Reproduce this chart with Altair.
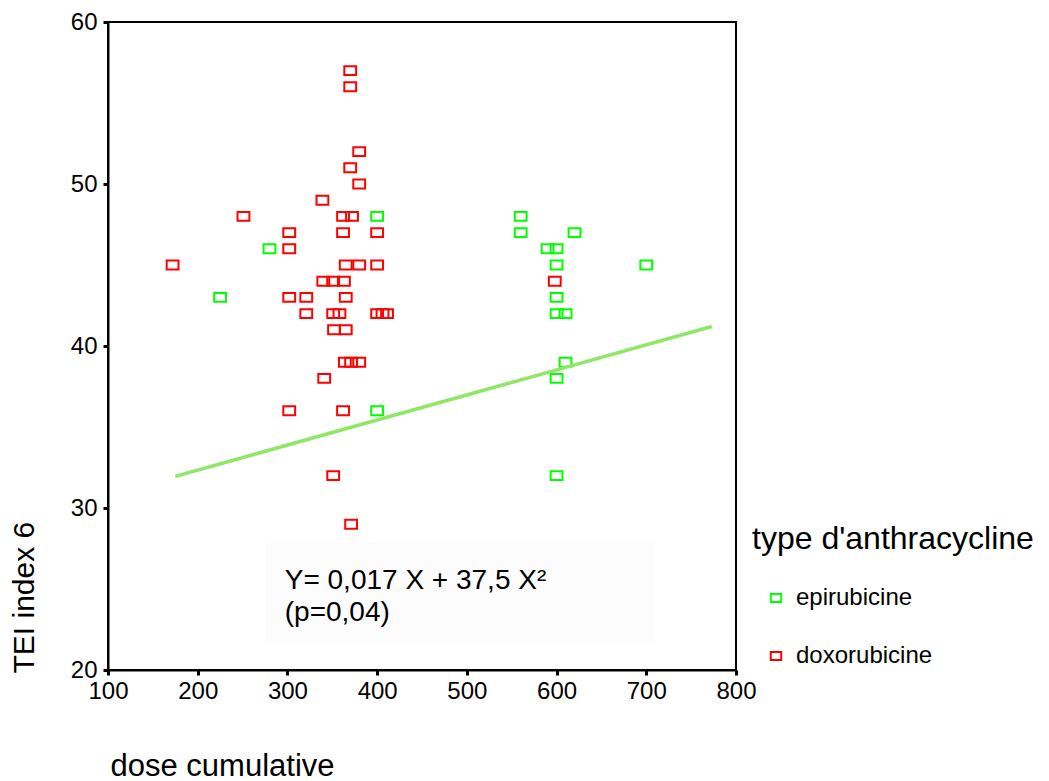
import altair as alt
import pandas as pd

# ---- data ----
epi_x = [225, 280, 400, 400, 560, 560, 620, 590, 600, 600, 700, 600, 600, 610, 610, 600, 600]
epi_y = [43, 46, 48, 36, 48, 47, 47, 46, 46, 45, 45, 43, 42, 42, 39, 38, 32]

dox_x = [172, 251, 302, 302, 302, 302, 321, 321, 339, 340, 341, 351, 351, 352, 351,
         363, 358, 362, 362, 365, 365, 365, 364, 362, 370, 370, 370, 372, 371, 371,
         380, 380, 380, 380, 400, 400, 400, 406, 411, 598]
dox_y = [45, 48, 47, 46, 43, 36, 43, 42, 49, 44, 38, 44, 42, 41, 32,
         44, 42, 48, 47, 45, 43, 41, 39, 36, 57, 56, 51, 48, 39, 29,
         52, 50, 45, 39, 47, 45, 42, 42, 42, 44]

fit_x = [175, 773]
fit_y = [31.95, 41.2]

type_names = ["epirubicine", "doxorubicine"]
type_colors = ["#00ff00", "#ff0000"]

x_ticks = [100, 200, 300, 400, 500, 600, 700, 800]
y_ticks = [20, 30, 40, 50, 60]

note_lines = ["Y= 0,017 X + 37,5 X\u00b2", "(p=0,04)"]
note_x = [297, 297]
note_y = [25.0, 23.0]

box_x = [275]
box_x2 = [710]
box_y = [27.85]
box_y2 = [21.65]

# ---- tables ----
pts = pd.DataFrame({
    "dose": epi_x + dox_x,
    "tei": epi_y + dox_y,
    "type": [type_names[0]] * len(epi_x) + [type_names[1]] * len(dox_x),
})
fit = pd.DataFrame({"dose": fit_x, "tei": fit_y})
notes = pd.DataFrame({"dose": note_x, "tei": note_y, "txt": note_lines})
box = pd.DataFrame({"x": box_x, "x2": box_x2, "y": box_y, "y2": box_y2})

FONT = "Liberation Sans"
rect_shape = "M-1,-0.75H1V0.75H-1Z"

xs = alt.Scale(domain=[100, 800], nice=False, zero=False)
ys = alt.Scale(domain=[20, 60], nice=False, zero=False)

x_axis = alt.Axis(values=x_ticks, title="dose cumulative", grid=False,
                  labelFontSize=24, labelFont=FONT, labelColor="#000000",
                  labelFlush=False, labelPadding=4, tickSize=5, tickWidth=3,
                  tickColor="#000000", domainColor="#000000", domainWidth=2,
                  titleFont=FONT, titleFontSize=31, titleFontWeight="normal",
                  titleColor="#000000", titleX=2, titleY=96, titleAlign="left",
                  titleBaseline="middle", titleAnchor="start")
y_axis = alt.Axis(values=y_ticks, title="TEI index 6", grid=False,
                  labelFontSize=24, labelFont=FONT, labelColor="#000000",
                  labelFlush=False, labelPadding=6, tickSize=5, tickWidth=3,
                  tickColor="#000000", domainColor="#000000", domainWidth=2,
                  titleFont=FONT, titleFontSize=30, titleFontWeight="normal",
                  titleColor="#000000", titleAngle=270, titleX=-84, titleY=651,
                  titleAlign="left", titleBaseline="middle")

bg = alt.Chart(box).mark_rect(color="#fcfcfc").encode(
    x=alt.X("x:Q", scale=xs, axis=x_axis),
    x2="x2:Q",
    y=alt.Y("y:Q", scale=ys, axis=y_axis),
    y2="y2:Q",
)

points = alt.Chart(pts).mark_point(shape=rect_shape, filled=False, strokeWidth=2,
                                    size=140, opacity=1).encode(
    x=alt.X("dose:Q", scale=xs, axis=x_axis),
    y=alt.Y("tei:Q", scale=ys, axis=y_axis),
    color=alt.Color("type:N",
                    scale=alt.Scale(domain=type_names, range=type_colors),
                    legend=alt.Legend(title="type d'anthracycline", orient="none",
                                      legendX=644, legendY=502,
                                      titleFont=FONT, titleFontSize=32,
                                      titleFontWeight="normal", titleColor="#000000",
                                      titleLimit=400, titlePadding=30,
                                      labelFont=FONT, labelFontSize=24,
                                      labelColor="#000000", labelOffset=8,
                                      symbolType=rect_shape, symbolSize=110,
                                      symbolStrokeWidth=2, symbolOffset=12,
                                      rowPadding=34)),
)

line = alt.Chart(fit).mark_line(color="#8ee866", strokeWidth=3.5).encode(
    x=alt.X("dose:Q", scale=xs),
    y=alt.Y("tei:Q", scale=ys),
)

text = alt.Chart(notes).mark_text(align="left", baseline="alphabetic",
                                   font=FONT, fontSize=28, color="#000000").encode(
    x=alt.X("dose:Q", scale=xs),
    y=alt.Y("tei:Q", scale=ys),
    text="txt:N",
)

chart = alt.layer(bg, points, line, text).properties(
    width=628, height=648,
    background="#ffffff",
    autosize=alt.AutoSizeParams(type="none"),
    padding={"left": 100, "top": 14, "right": 305, "bottom": 111},
).configure_view(stroke="#000000", strokeWidth=2)

chart.save("out.html", embed_options={"renderer": "svg", "actions": False})
